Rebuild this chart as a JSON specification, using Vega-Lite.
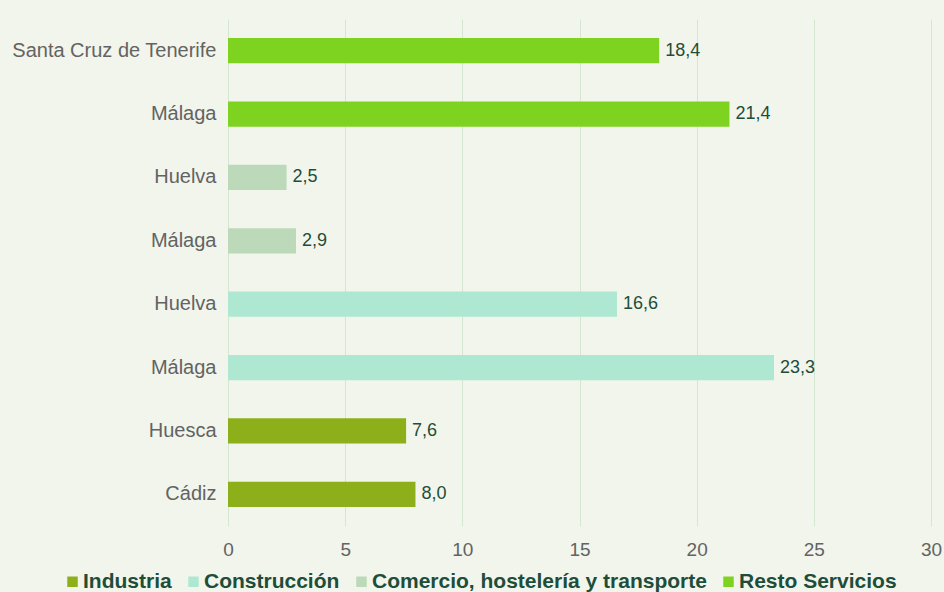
{
  "$schema": "https://vega.github.io/schema/vega-lite/v6.json",
  "width": 703,
  "height": 507,
  "autosize": {"type": "none"},
  "padding": {"left": 228, "top": 19, "right": 13, "bottom": 66},
  "background": "#f1f5eb",
  "config": {
    "view": {"stroke": null},
    "font": "Liberation Sans",
    "locale": {"number": {"decimal": ",", "thousands": ".", "grouping": [3], "currency": ["", " €"]}}
  },
  "data": {
    "values": [
      {"key": "Santa Cruz de Tenerife|1", "sector": "Resto Servicios", "value": 18.4},
      {"key": "Málaga|2", "sector": "Resto Servicios", "value": 21.4},
      {"key": "Huelva|3", "sector": "Comercio, hostelería y transporte", "value": 2.5},
      {"key": "Málaga|4", "sector": "Comercio, hostelería y transporte", "value": 2.9},
      {"key": "Huelva|5", "sector": "Construcción", "value": 16.6},
      {"key": "Málaga|6", "sector": "Construcción", "value": 23.3},
      {"key": "Huesca|7", "sector": "Industria", "value": 7.6},
      {"key": "Cádiz|8", "sector": "Industria", "value": 8.0}
    ]
  },
  "encoding": {
    "y": {
      "field": "key",
      "type": "nominal",
      "sort": null,
      "scale": {"paddingInner": 0.6, "paddingOuter": 0.3},
      "axis": {
        "title": null,
        "labelExpr": "split(datum.value, '|')[0]",
        "labelFontSize": 20,
        "labelColor": "#636363",
        "labelPadding": 12,
        "labelLimit": 400,
        "ticks": false,
        "domain": false,
        "grid": false
      }
    },
    "x": {
      "field": "value",
      "type": "quantitative",
      "scale": {"domain": [0, 30], "nice": false},
      "axis": {
        "title": null,
        "values": [0, 5, 10, 15, 20, 25, 30],
        "labelFontSize": 19,
        "labelColor": "#636363",
        "labelPadding": 14,
        "labelFlush": false,
        "ticks": false,
        "domain": false,
        "grid": true,
        "gridColor": "#d4e6cf",
        "gridWidth": 1
      }
    }
  },
  "layer": [
    {
      "mark": {"type": "bar"},
      "encoding": {
        "color": {
          "field": "sector",
          "type": "nominal",
          "scale": {
            "domain": ["Industria", "Construcción", "Comercio, hostelería y transporte", "Resto Servicios"],
            "range": ["#8db01a", "#aee8d3", "#bcd9b9", "#7ed321"]
          },
          "legend": {
            "title": null,
            "orient": "none",
            "direction": "horizontal",
            "legendX": -166,
            "legendY": 552,
            "symbolType": "square",
            "symbolSize": 110,
            "symbolStrokeWidth": 0,
            "labelFontSize": 21,
            "labelFontWeight": "bold",
            "labelColor": "#1e4d3a",
            "labelOffset": 0,
            "labelLimit": 500,
            "columnPadding": 11
          }
        }
      }
    },
    {
      "mark": {"type": "text", "align": "left", "dx": 6, "fontSize": 18, "color": "#1e4d3a"},
      "encoding": {
        "text": {"field": "value", "type": "quantitative", "format": ".1f"}
      }
    }
  ]
}
